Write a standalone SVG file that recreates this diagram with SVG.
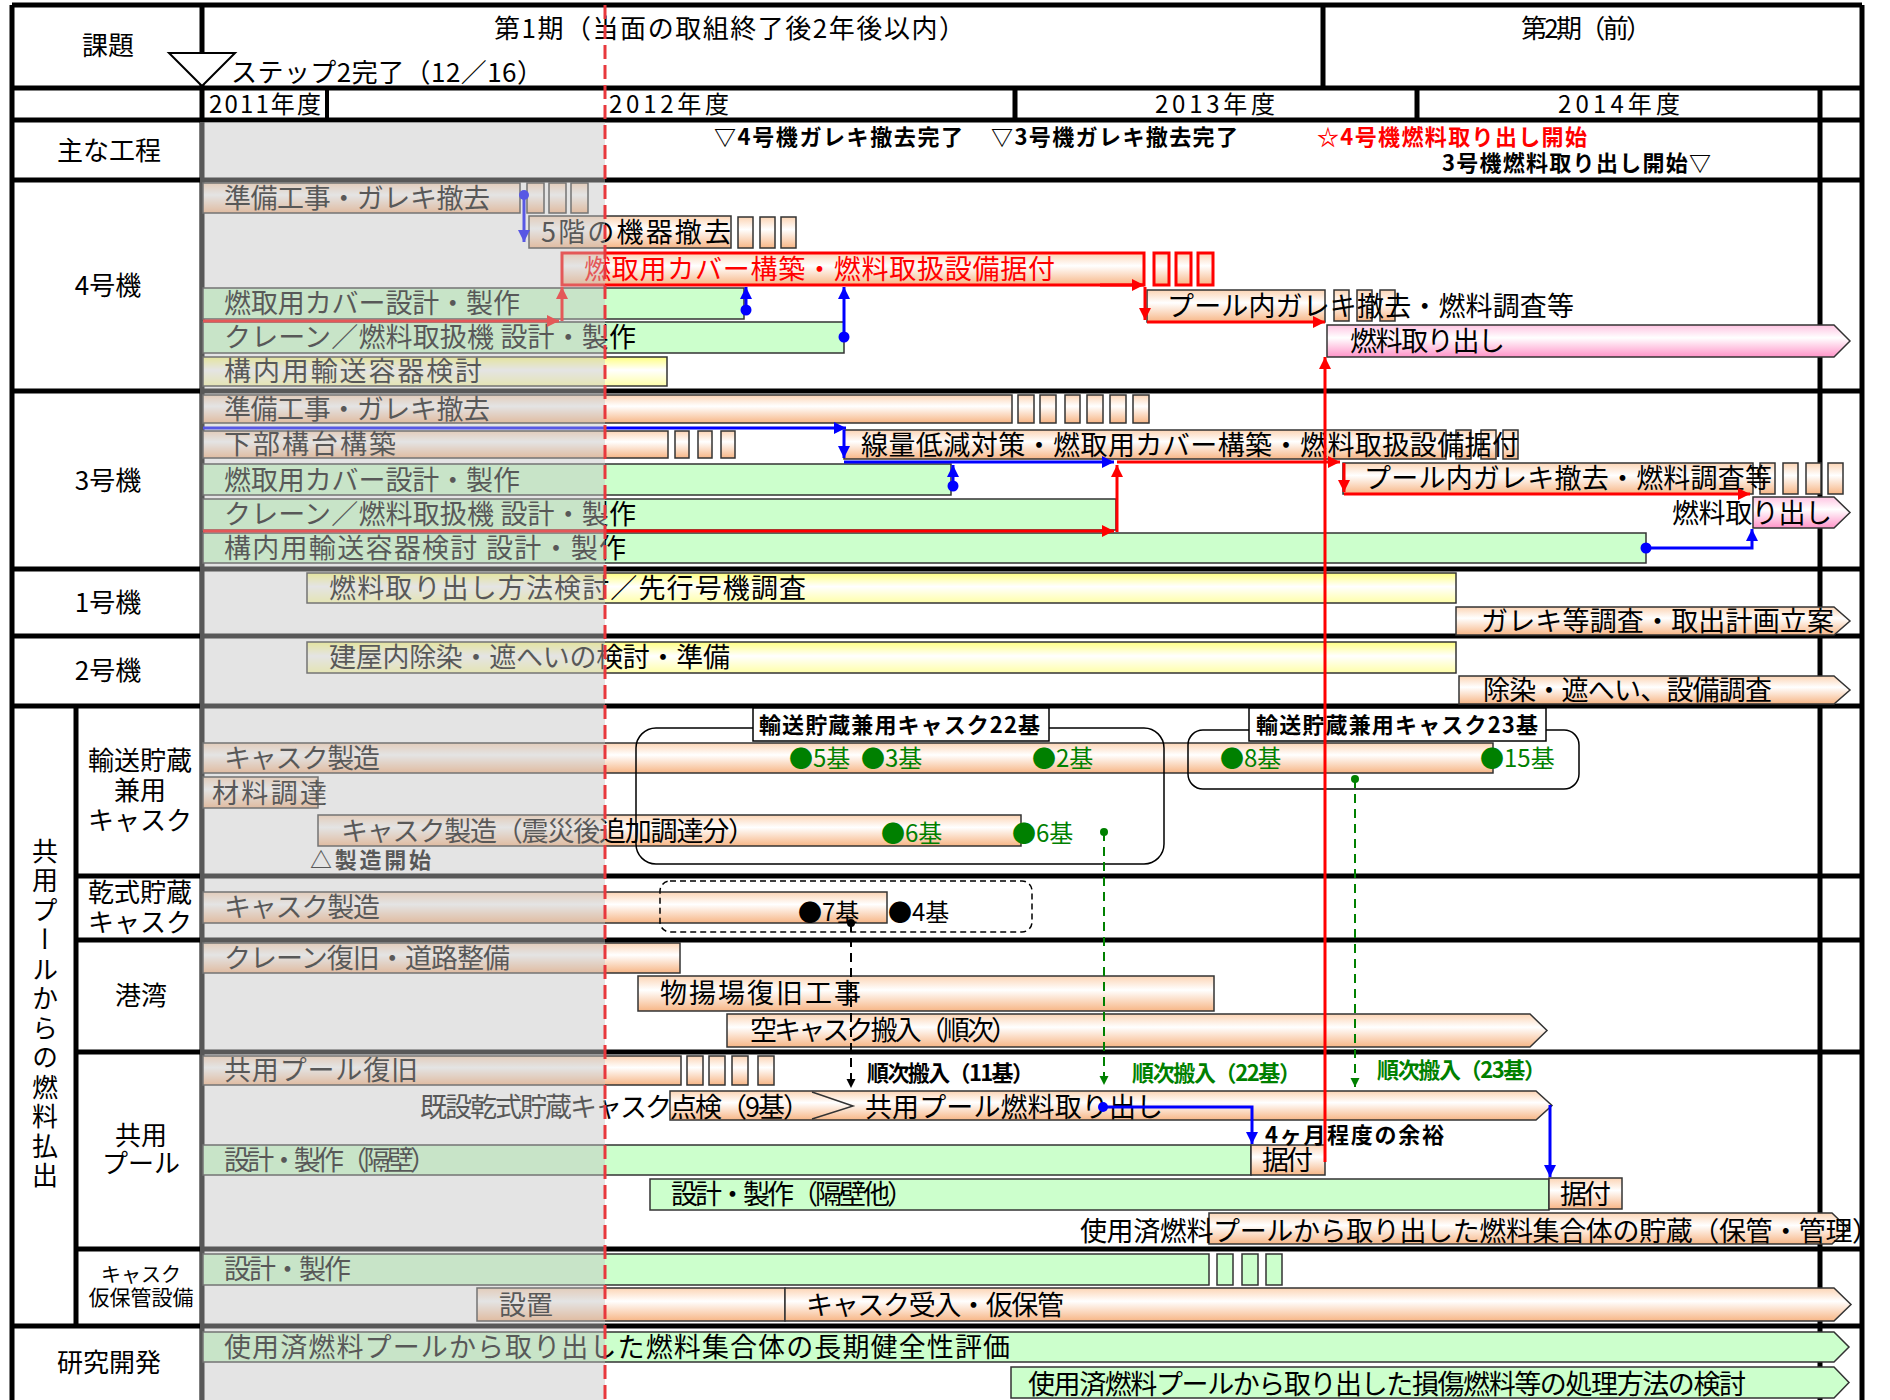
<svg xmlns="http://www.w3.org/2000/svg" width="1890" height="1400" viewBox="0 0 1890 1400">
<defs>
<linearGradient id="gOr" x1="0" y1="0" x2="0" y2="1"><stop offset="0" stop-color="#fcd4b4"/><stop offset="0.4" stop-color="#ffffff"/><stop offset="1" stop-color="#f7b686"/></linearGradient>
<linearGradient id="gYe" x1="0" y1="0" x2="0" y2="1"><stop offset="0" stop-color="#ffff80"/><stop offset="0.45" stop-color="#ffffff"/><stop offset="1" stop-color="#ffffa8"/></linearGradient>
<linearGradient id="gPk" x1="0" y1="0" x2="0" y2="1"><stop offset="0" stop-color="#ffc4e2"/><stop offset="0.4" stop-color="#ffffff"/><stop offset="1" stop-color="#ff94c8"/></linearGradient>
<marker id="aR" markerUnits="userSpaceOnUse" markerWidth="14" markerHeight="14" refX="12" refY="6" orient="auto"><path d="M0,0 L12,6 L0,12 z" fill="#ff0000"/></marker>
<marker id="aB" markerUnits="userSpaceOnUse" markerWidth="14" markerHeight="14" refX="12" refY="6" orient="auto"><path d="M0,0 L12,6 L0,12 z" fill="#0000ff"/></marker>
<marker id="aG" markerUnits="userSpaceOnUse" markerWidth="10" markerHeight="10" refX="9" refY="4.5" orient="auto"><path d="M0,0 L9,4.5 L0,9 z" fill="#008000"/></marker>
<marker id="aK" markerUnits="userSpaceOnUse" markerWidth="10" markerHeight="10" refX="9" refY="4.5" orient="auto"><path d="M0,0 L9,4.5 L0,9 z" fill="#000"/></marker>
</defs>
<style>
.grid{stroke:#000;stroke-width:5;fill:none}
.bar{stroke:#333;stroke-width:1.5}
.or{fill:url(#gOr)}
.gr{fill:#ccffcc}
.ye{fill:url(#gYe)}
.pk{fill:url(#gPk)}
.rb{stroke:#ff0000;stroke-width:3}
.t{font-family:"Noto Sans CJK JP","Noto Sans CJK SC",sans-serif;font-size:27px;fill:#000;dominant-baseline:central;transform:translateY(-2px)}
.h{font-size:26px}
.y{font-size:24px}
.m{font-size:22px;font-weight:bold}
.s{font-size:24px}
.gt{fill:#008000}
.rt{fill:#ff0000}
.mid{text-anchor:middle}
.cr{fill:none;stroke-width:3}
.cb{stroke:#0000ff}
.cred{stroke:#ff0000}
</style>
<rect x="0" y="0" width="1890" height="1400" fill="#fff"/>

<g id="grid" class="grid">
<path d="M12,5 H1862 M12,88 H1862 M12,120 H1862 M12,180 H1862 M12,391 H1862 M12,569 H1862 M12,636 H1862 M12,706 H1862 M76,876 H1862 M76,940 H1862 M76,1052 H1862 M76,1249 H1862 M12,1326 H1862"/>
<path d="M12,5 V1400 M202,5 V1400 M76,706 V1326 M1323,5 V88 M1820,88 V1400 M1862,5 V1400 M1015,88 V120 M1417,88 V120"/>
<path d="M327,88 V120" stroke-width="4"/>
</g>

<g id="header">
<text class="t h mid" x="108" y="45">課題</text>
<text class="t h" x="494" y="28" textLength="471">第1期（当面の取組終了後2年後以内）</text>
<text class="t h" x="1521" y="28" textLength="131">第2期（前）</text>
<polygon points="169,53 235,53 202,86" fill="#fff" stroke="#000" stroke-width="2"/>
<text class="t h" x="231" y="72" textLength="312">ステップ2完了（12／16）</text>
<text class="t y" x="209" y="104" textLength="112">2011年度</text>
<text class="t y" x="609" y="104" textLength="120">2012年度</text>
<text class="t y" x="1155" y="104" textLength="120">2013年度</text>
<text class="t y" x="1558" y="104" textLength="122">2014年度</text>
</g>

<g id="labels">
<text class="t h mid" x="109" y="150">主な工程</text>
<text class="t h mid" x="108" y="285">4号機</text>
<text class="t h mid" x="108" y="480">3号機</text>
<text class="t h mid" x="108" y="602">1号機</text>
<text class="t h mid" x="108" y="670">2号機</text>
<text class="t h mid" x="109" y="1362">研究開発</text>
<text class="t h" x="45" y="840" style="writing-mode:vertical-rl;letter-spacing:3.5px">共用プールからの燃料払出</text>
<text class="t h mid" x="140" y="760">輸送貯蔵<tspan x="140" dy="30">兼用</tspan><tspan x="140" dy="30">キャスク</tspan></text>
<text class="t h mid" x="140" y="892">乾式貯蔵<tspan x="140" dy="30">キャスク</tspan></text>
<text class="t h mid" x="141" y="995">港湾</text>
<text class="t h mid" x="141" y="1135">共用<tspan x="141" dy="28">プール</tspan></text>
<text class="t mid" x="141" y="1275" style="font-size:20px">キャスク<tspan x="141" dy="23" style="font-size:21px">仮保管設備</tspan></text>
</g>

<g id="milestones">
<text class="t m" x="714" y="137" textLength="249">▽4号機ガレキ撤去完了</text>
<text class="t m" x="991" y="137" textLength="247">▽3号機ガレキ撤去完了</text>
<text class="t m rt" x="1317" y="137" textLength="270">☆4号機燃料取り出し開始</text>
<text class="t m" x="1442" y="163" textLength="269">3号機燃料取り出し開始▽</text>
</g>

<!-- 4号機 -->
<g id="u4-junbi">
<rect class="bar or" x="203" y="183" width="317" height="30"/>
<rect class="bar or" x="527" y="183" width="17" height="30"/><rect class="bar or" x="549" y="183" width="17" height="30"/><rect class="bar or" x="571" y="183" width="17" height="30"/>
<text class="t" x="224" y="198" textLength="266">準備工事・ガレキ撤去</text>
</g>
<g id="u4-5f">
<rect class="bar or" x="529" y="216" width="202" height="32"/>
<rect class="bar or" x="738" y="217" width="15" height="31"/><rect class="bar or" x="760" y="217" width="15" height="31"/><rect class="bar or" x="781" y="217" width="15" height="31"/>
<text class="t" x="541" y="232" textLength="190">5階の機器撤去</text>
</g>
<g id="u4-cover">
<rect class="or rb" x="562" y="253" width="582" height="32"/>
<rect class="or rb" x="1154" y="253" width="15" height="32"/><rect class="or rb" x="1176" y="253" width="15" height="32"/><rect class="or rb" x="1198" y="253" width="15" height="32"/>
<text class="t rt" x="584" y="269" textLength="471">燃取用カバー構築・燃料取扱設備据付</text>
</g>
<g id="u4-coverdesign">
<rect class="bar gr" x="203" y="288" width="541" height="31"/>
<text class="t" x="224" y="303" textLength="296">燃取用カバー設計・製作</text>
</g>
<g id="u4-crane">
<rect class="bar gr" x="203" y="322" width="641" height="31"/>
<text class="t" x="224" y="337" textLength="412">クレーン／燃料取扱機 設計・製作</text>
</g>
<g id="u4-container">
<rect class="bar ye" x="203" y="357" width="464" height="29"/>
<text class="t" x="224" y="371" textLength="258">構内用輸送容器検討</text>
</g>
<g id="u4-pool">
<rect class="bar or" x="1147" y="290" width="178" height="32"/>
<rect class="bar or" x="1334" y="290" width="15" height="31"/><rect class="bar or" x="1357" y="290" width="15" height="31"/><rect class="bar or" x="1380" y="290" width="15" height="31"/>
<text class="t" x="1167" y="306" textLength="407">プール内ガレキ撤去・燃料調査等</text>
</g>
<g id="u4-fuel">
<path class="bar pk" d="M1327,325 H1834 L1850,341 L1834,357 H1327 Z"/>
<text class="t" x="1350" y="341" textLength="155">燃料取り出し</text>
</g>

<!-- 3号機 -->
<g id="u3-junbi">
<rect class="bar or" x="203" y="395" width="809" height="28"/>
<rect class="bar or" x="1018" y="395" width="16" height="28"/><rect class="bar or" x="1040" y="395" width="16" height="28"/><rect class="bar or" x="1065" y="395" width="15" height="28"/><rect class="bar or" x="1087" y="395" width="16" height="28"/><rect class="bar or" x="1110" y="395" width="16" height="28"/><rect class="bar or" x="1133" y="395" width="16" height="28"/>
<text class="t" x="224" y="409" textLength="266">準備工事・ガレキ撤去</text>
</g>
<g id="u3-kabu">
<rect class="bar or" x="203" y="431" width="465" height="27"/>
<rect class="bar or" x="675" y="431" width="14" height="27"/><rect class="bar or" x="698" y="431" width="14" height="27"/><rect class="bar or" x="721" y="431" width="14" height="27"/>
<text class="t" x="224" y="444" textLength="172">下部構台構築</text>
</g>
<g id="u3-cover">
<rect class="bar or" x="844" y="430" width="602" height="29"/>
<rect class="bar or" x="1456" y="430" width="15" height="29"/><rect class="bar or" x="1481" y="430" width="15" height="29"/><rect class="bar or" x="1503" y="430" width="15" height="29"/>
<text class="t" x="861" y="445" textLength="658">線量低減対策・燃取用カバー構築・燃料取扱設備据付</text>
</g>
<g id="u3-coverdesign">
<rect class="bar gr" x="203" y="464" width="748" height="31"/>
<text class="t" x="224" y="480" textLength="296">燃取用カバー設計・製作</text>
</g>
<g id="u3-pool">
<rect class="bar or" x="1343" y="463" width="410" height="31"/>
<rect class="bar or" x="1760" y="463" width="15" height="31"/><rect class="bar or" x="1783" y="463" width="15" height="31"/><rect class="bar or" x="1806" y="463" width="15" height="31"/><rect class="bar or" x="1828" y="463" width="15" height="31"/>
<text class="t" x="1364" y="478" textLength="408">プール内ガレキ撤去・燃料調査等</text>
</g>
<g id="u3-crane">
<rect class="bar gr" x="203" y="499" width="913" height="31"/>
<text class="t" x="224" y="514" textLength="412">クレーン／燃料取扱機 設計・製作</text>
</g>
<g id="u3-fuel">
<path class="bar pk" d="M1753,497 H1834 L1850,512.5 L1834,528 H1753 Z"/>
<text class="t" x="1672" y="513" textLength="160">燃料取り出し</text>
</g>
<g id="u3-container">
<rect class="bar gr" x="203" y="533" width="1443" height="30"/>
<text class="t" x="224" y="548" textLength="402">構内用輸送容器検討 設計・製作</text>
</g>

<!-- 1号機 / 2号機 -->
<g id="u1-study">
<rect class="bar ye" x="307" y="573" width="1149" height="30"/>
<text class="t" x="329" y="588" textLength="477">燃料取り出し方法検討／先行号機調査</text>
</g>
<g id="u1-plan">
<path class="bar or" d="M1456,607 H1834 L1850,621 L1834,635 H1456 Z"/>
<text class="t" x="1481" y="621" textLength="353">ガレキ等調査・取出計画立案</text>
</g>
<g id="u2-study">
<rect class="bar ye" x="307" y="642" width="1149" height="31"/>
<text class="t" x="329" y="657" textLength="401">建屋内除染・遮へいの検討・準備</text>
</g>
<g id="u2-survey">
<path class="bar or" d="M1459,676 H1834 L1850,690 L1834,704 H1459 Z"/>
<text class="t" x="1483" y="690" textLength="289">除染・遮へい、設備調査</text>
</g>

<!-- 輸送貯蔵兼用キャスク -->
<g id="tc-make">
<rect class="bar or" x="203" y="743" width="1290" height="30"/>
<text class="t" x="224" y="758" textLength="156">キャスク製造</text>
</g>
<g id="tc-material">
<rect class="bar or" x="203" y="777" width="115" height="31"/>
<text class="t" x="212" y="793" textLength="115">材料調達</text>
</g>
<g id="tc-extra">
<rect class="bar or" x="318" y="815" width="703" height="31"/>
<text class="t" x="341" y="831" textLength="414">キャスク製造（震災後追加調達分）</text>
</g>
<g id="tc-group22">
<rect x="636" y="728" width="528" height="136" rx="20" fill="none" stroke="#000" stroke-width="1.5"/>
<rect x="753" y="708" width="296" height="33" fill="#fff" stroke="#000" stroke-width="1.5"/>
<text class="t m" x="759" y="725" textLength="281">輸送貯蔵兼用キャスク22基</text>
</g>
<g id="tc-group23">
<rect x="1188" y="730" width="391" height="59" rx="15" fill="none" stroke="#000" stroke-width="1.5"/>
<rect x="1249" y="708" width="297" height="33" fill="#fff" stroke="#000" stroke-width="1.5"/>
<text class="t m" x="1256" y="725" textLength="282">輸送貯蔵兼用キャスク23基</text>
</g>
<g id="tc-counts">
<text class="t s gt" x="789" y="758">●5基</text>
<text class="t s gt" x="861" y="758">●3基</text>
<text class="t s gt" x="1032" y="758">●2基</text>
<text class="t s gt" x="1220" y="758">●8基</text>
<text class="t s gt" x="1480" y="758">●15基</text>
<text class="t s gt" x="881" y="833">●6基</text>
<text class="t s gt" x="1012" y="833">●6基</text>
<text class="t m" x="310" y="860" textLength="121">△製造開始</text>
</g>

<!-- 乾式貯蔵キャスク -->
<g id="dc-make">
<rect class="bar or" x="203" y="892" width="684" height="31"/>
<text class="t" x="224" y="907" textLength="156">キャスク製造</text>
</g>
<g id="dc-group">
<rect x="660" y="881" width="372" height="51" rx="10" fill="none" stroke="#000" stroke-width="1.5" stroke-dasharray="6 4"/>
<text class="t s" x="798" y="912">●7基</text>
<text class="t s" x="888" y="912">●4基</text>
</g>

<!-- 港湾 -->
<g id="port-crane">
<rect class="bar or" x="203" y="943" width="477" height="30"/>
<text class="t" x="224" y="958" textLength="286">クレーン復旧・道路整備</text>
</g>
<g id="port-quay">
<rect class="bar or" x="638" y="976" width="576" height="35"/>
<text class="t" x="660" y="993" textLength="201">物揚場復旧工事</text>
</g>
<g id="port-empty">
<path class="bar or" d="M727,1014 H1530 L1547,1030.5 L1530,1047 H727 Z"/>
<text class="t" x="750" y="1030" textLength="268">空キャスク搬入（順次）</text>
</g>

<!-- 共用プール -->
<g id="cp-restore">
<rect class="bar or" x="203" y="1056" width="478" height="29"/>
<rect class="bar or" x="687" y="1056" width="16" height="29"/><rect class="bar or" x="709" y="1056" width="16" height="29"/><rect class="bar or" x="732" y="1056" width="16" height="29"/><rect class="bar or" x="758" y="1056" width="16" height="29"/>
<text class="t" x="224" y="1070" textLength="194">共用プール復旧</text>
</g>
<g id="cp-takeout">
<path class="bar or" d="M670,1091 H1536 L1552,1105.5 L1536,1120 H670 Z"/>
<polyline points="812,1092 853,1106 812,1119" fill="none" stroke="#333" stroke-width="1.5"/>
<text class="t" x="420" y="1107" textLength="390">既設乾式貯蔵キャスク点検（9基）</text>
<text class="t" x="865" y="1107" textLength="298">共用プール燃料取り出し</text>
</g>
<g id="cp-wall">
<rect class="bar gr" x="203" y="1145" width="1048" height="30"/>
<text class="t" x="224" y="1160" textLength="213">設計・製作（隔壁）</text>
<rect class="bar or" x="1251" y="1145" width="74" height="30"/>
<text class="t" x="1262" y="1160" textLength="51">据付</text>
</g>
<g id="cp-wall2">
<rect class="bar gr" x="650" y="1179" width="899" height="31"/>
<text class="t" x="671" y="1194" textLength="243">設計・製作（隔壁他）</text>
<rect class="bar or" x="1549" y="1178" width="73" height="31"/>
<text class="t" x="1560" y="1194" textLength="51">据付</text>
</g>
<g id="cp-storage">
<path class="bar or" d="M1209,1213 H1832 L1848,1228.5 L1832,1244 H1209 Z"/>
<text class="t" x="1080" y="1231" textLength="799">使用済燃料プールから取り出した燃料集合体の貯蔵（保管・管理）</text>
</g>
<g id="cp-notes">
<text class="t m" x="867" y="1073" textLength="167">順次搬入（11基）</text>
<text class="t m gt" x="1132" y="1073" textLength="169">順次搬入（22基）</text>
<text class="t m gt" x="1377" y="1070" textLength="169">順次搬入（23基）</text>
<text class="t m" x="1265" y="1135" textLength="179">4ヶ月程度の余裕</text>
</g>

<!-- キャスク仮保管設備 -->
<g id="tf-design">
<rect class="bar gr" x="203" y="1254" width="1006" height="31"/>
<rect class="bar gr" x="1217" y="1254" width="16" height="31"/><rect class="bar gr" x="1242" y="1254" width="16" height="31"/><rect class="bar gr" x="1266" y="1254" width="16" height="31"/>
<text class="t" x="224" y="1269" textLength="127">設計・製作</text>
</g>
<g id="tf-install">
<rect class="bar or" x="477" y="1288" width="308" height="33"/>
<text class="t" x="499" y="1305" textLength="54">設置</text>
</g>
<g id="tf-receive">
<path class="bar or" d="M785,1288 H1834 L1851,1304.5 L1834,1321 H785 Z"/>
<text class="t" x="806" y="1305" textLength="258">キャスク受入・仮保管</text>
</g>

<!-- 研究開発 -->
<g id="rd-1">
<path class="bar gr" d="M203,1332 H1834 L1849,1347 L1834,1362 H203 Z"/>
<text class="t" x="224" y="1347" textLength="786">使用済燃料プールから取り出した燃料集合体の長期健全性評価</text>
</g>
<g id="rd-2">
<path class="bar gr" d="M1011,1367 H1834 L1849,1382.5 L1834,1398 H1011 Z"/>
<text class="t" x="1028" y="1384" textLength="718">使用済燃料プールから取り出した損傷燃料等の処理方法の検討</text>
</g>

<g id="connectors">
<!-- blue -->
<circle cx="524" cy="195" r="5" fill="#0000ff"/>
<path class="cr cb" d="M524,195 V242" marker-end="url(#aB)"/>
<circle cx="746" cy="310" r="5.5" fill="#0000ff"/>
<path class="cr cb" d="M746,310 V287" marker-end="url(#aB)"/>
<circle cx="844" cy="337" r="5.5" fill="#0000ff"/>
<path class="cr cb" d="M844,337 V287" marker-end="url(#aB)"/>
<path class="cr cb" d="M203,428 H846" stroke-width="4.5" marker-end="url(#aB)"/>
<path class="cr cb" d="M844,430 V458" marker-end="url(#aB)"/>
<path class="cr cb" d="M844,462 H1114" marker-end="url(#aB)"/>
<circle cx="953" cy="486" r="5.5" fill="#0000ff"/>
<path class="cr cb" d="M953,486 V465" marker-end="url(#aB)"/>
<circle cx="1646" cy="548" r="5.5" fill="#0000ff"/>
<path class="cr cb" d="M1646,548 H1752 V529" marker-end="url(#aB)"/>
<circle cx="1103" cy="1107" r="5" fill="#0000ff"/>
<path class="cr cb" d="M1103,1107 H1252 V1144" marker-end="url(#aB)"/>
<path class="cr cb" d="M1550,1105 V1177" marker-end="url(#aB)"/>
<!-- red -->
<path class="cr cred" d="M203,321 H559" marker-end="url(#aR)"/>
<path class="cr cred" d="M562,321 V287" marker-end="url(#aR)"/>
<path class="cr cred" d="M1100,285 H1144" marker-end="url(#aR)"/>
<path class="cr cred" d="M1145,287 V320" marker-end="url(#aR)"/>
<path class="cr cred" d="M1147,322 H1325" marker-end="url(#aR)"/>
<path class="cr cred" d="M1325,1162 V357" marker-end="url(#aR)"/>
<path class="cr cred" d="M203,531 H1114" marker-end="url(#aR)"/>
<path class="cr cred" d="M1117,532 V465" marker-end="url(#aR)"/>
<path class="cr cred" d="M1117,462 H1340" marker-end="url(#aR)"/>
<path class="cr cred" d="M1344,463 V492" marker-end="url(#aR)"/>
<path class="cr cred" d="M1344,494 H1750" marker-end="url(#aR)"/>
<!-- green dashed -->
<circle cx="1104" cy="832" r="4" fill="#008000"/>
<path d="M1104,832 V1085" fill="none" stroke="#008000" stroke-width="2" stroke-dasharray="9 6" marker-end="url(#aG)"/>
<circle cx="1355" cy="779" r="4" fill="#008000"/>
<path d="M1355,779 V1087" fill="none" stroke="#008000" stroke-width="2" stroke-dasharray="9 6" marker-end="url(#aG)"/>
<!-- black dashed -->
<circle cx="851" cy="923" r="4" fill="#000"/>
<path d="M851,923 V1088" fill="none" stroke="#000" stroke-width="2" stroke-dasharray="9 6" marker-end="url(#aK)"/>
</g>

<g id="past-overlay">
<rect x="200" y="122" width="405" height="1278" fill="#c4c4c4" opacity="0.45"/>
</g>
<g id="today-line">
<path d="M605,5 V1400" stroke="#e8383d" stroke-width="3" stroke-dasharray="14 6" fill="none"/>
</g>
</svg>
